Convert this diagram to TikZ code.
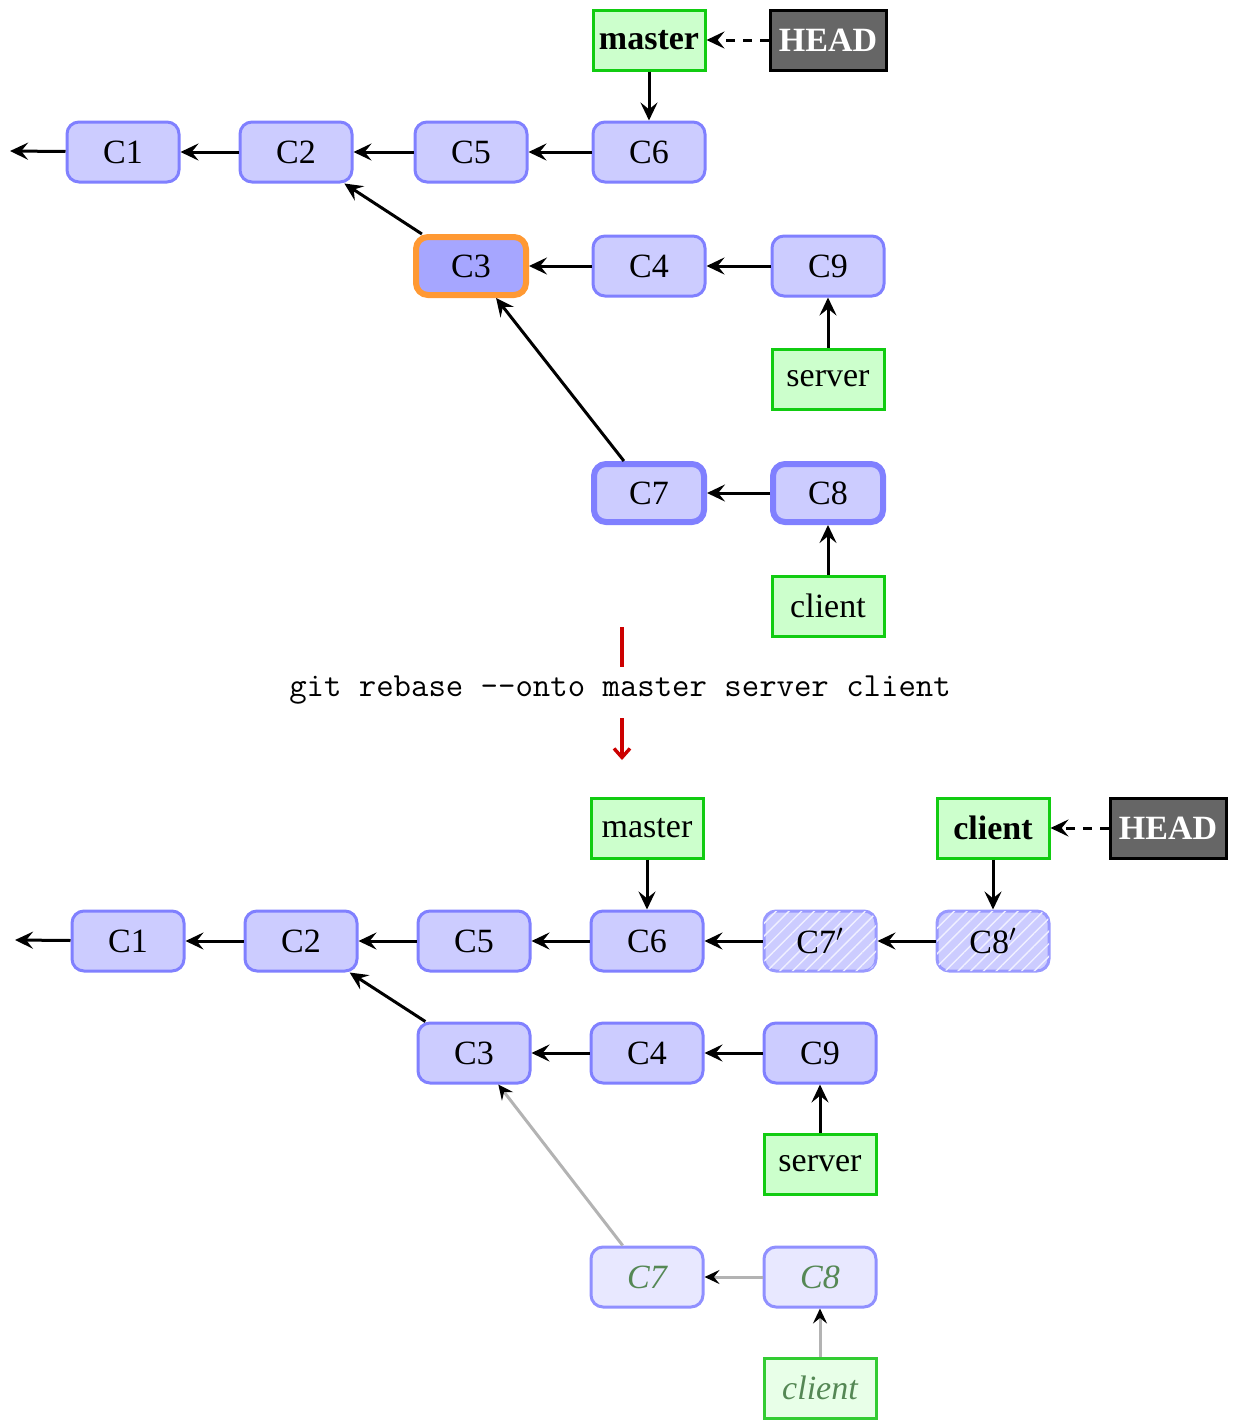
\documentclass[tikz,border=0pt]{standalone}
\usepackage{fontspec}
\setmainfont{Liberation Serif}
\usetikzlibrary{arrows.meta,patterns.meta}
\definecolor{cfill}{HTML}{CCCCFF}
\definecolor{cdraw}{HTML}{8080FF}
\definecolor{cdark}{HTML}{A6A6FF}
\definecolor{corange}{HTML}{FF9933}
\definecolor{bfill}{HTML}{CCFFCC}
\definecolor{bdraw}{HTML}{11CC11}
\definecolor{hfill}{HTML}{666666}
\definecolor{gfill}{HTML}{E8E8FF}
\definecolor{gdraw}{HTML}{9090FF}
\definecolor{gtext}{HTML}{558855}
\definecolor{gbfill}{HTML}{E8FFE8}
\definecolor{gbdraw}{HTML}{33CC33}
\definecolor{hdraw}{HTML}{9999FF}
\definecolor{gline}{HTML}{B3B3B3}
\definecolor{cred}{HTML}{CC0000}
\tikzset{
  x=0.5pt,y=-0.5pt,
  every node/.style={font=\fontsize{17}{20}\selectfont},
  commit/.style={draw=cdraw,fill=cfill,line width=1.5pt,rounded corners=6pt,
    minimum width=56pt,minimum height=30pt,inner sep=0pt,text depth=0pt,yshift=-0.5pt},
  thickcommit/.style={commit,line width=3pt,minimum width=55pt,minimum height=29pt},
  curcommit/.style={commit,draw=corange,fill=cdark,line width=3pt,minimum width=55pt,minimum height=29pt},
  ghostcommit/.style={commit,draw=gdraw,fill=gfill,text=gtext,font=\fontsize{17}{20}\selectfont\itshape},
  newcommit/.style={commit,draw=hdraw,fill=cfill,postaction={pattern={Lines[angle=45,distance=4.5pt,line width=0.7pt]},pattern color=white!70!cfill}},
  branch/.style={draw=bdraw,fill=bfill,line width=1.5pt,minimum width=56pt,minimum height=30pt,inner sep=0pt},
  ghostbranch/.style={branch,draw=gbdraw,fill=gbfill,text=gtext,font=\fontsize{17}{20}\selectfont\itshape},
  headbox/.style={draw=black,fill=hfill,text=white,line width=1.5pt,minimum width=58pt,minimum height=30pt,inner sep=0pt,font=\fontsize{17}{20}\selectfont\bfseries},
  parent/.style={line width=1.5pt,-{Stealth[length=9pt,width=8.5pt,inset=3.4pt]}},
  ghostparent/.style={line width=1.5pt,draw=gline,-{Stealth[length=7.5pt,width=7pt,inset=2.8pt,color=black]}},
  headptr/.style={parent,dash pattern=on 4.5pt off 4pt},
  redline/.style={draw=cred,line width=1.7pt},
}
\begin{document}
\begin{tikzpicture}
\useasboundingbox (0,0) rectangle (1235,1420);
% ---------- top ----------
\node[commit] (tC1) at (123,151) {C1};
\node[commit] (tC2) at (296,151) {C2};
\node[commit] (tC5) at (471,151) {C5};
\node[commit] (tC6) at (649,151) {C6};
\node[curcommit] (tC3) at (471,265) {C3};
\node[commit] (tC4) at (649,265) {C4};
\node[commit] (tC9) at (828,265) {C9};
\node[thickcommit] (tC7) at (649,492) {C7};
\node[thickcommit] (tC8) at (828,492) {C8};
\node[branch,font=\fontsize{17}{20}\selectfont\bfseries] (tmaster) at (649,40) {master};
\node[headbox] (tHEAD) at (828,40) {HEAD};
\node[branch] (tserver) at (828,379) {server};
\node[branch] (tclient) at (828,606) {client};
\coordinate (tL) at (10,151);
\draw[parent] (tC1) -- (tL);
\draw[parent] (tC2) -- (tC1);
\draw[parent] (tC5) -- (tC2);
\draw[parent] (tC6) -- (tC5);
\draw[parent] (tC3) -- (tC2);
\draw[parent] (tC4) -- (tC3);
\draw[parent] (tC9) -- (tC4);
\draw[parent] (tC7) -- (tC3);
\draw[parent] (tC8) -- (tC7);
\draw[parent] (tmaster) -- (tC6);
\draw[headptr] (tHEAD) -- (tmaster);
\draw[parent] (tserver) -- (tC9);
\draw[parent] (tclient) -- (tC8);
% ---------- middle ----------
\node[inner sep=0pt,font=\fontsize{16.9}{20}\selectfont\ttfamily] (cmd) at (620,690) {git rebase -{}-onto master server client};
\coordinate (r1) at (622,627);
\coordinate (r2) at (622,667);
\coordinate (r3) at (622,718);
\coordinate (r4) at (622,760);
\draw[redline] (r1) -- (r2);
\draw[redline,-{Straight Barb[length=4.5pt,width=8pt]}] (r3) -- (r4);
% ---------- bottom ----------
\node[commit] (bC1) at (128,940) {C1};
\node[commit] (bC2) at (301,940) {C2};
\node[commit] (bC5) at (474,940) {C5};
\node[commit] (bC6) at (647,940) {C6};
\node[newcommit] (bC7p) at (820,940) {C7$'$};
\node[newcommit] (bC8p) at (993,940) {C8$'$};
\node[commit] (bC3) at (474,1052) {C3};
\node[commit] (bC4) at (647,1052) {C4};
\node[commit] (bC9) at (820,1052) {C9};
\node[ghostcommit] (bC7) at (647,1276) {C7};
\node[ghostcommit] (bC8) at (820,1276) {C8};
\node[branch] (bmaster) at (647,828) {master};
\node[branch,font=\fontsize{17}{20}\selectfont\bfseries] (bclient) at (993,828) {client};
\node[headbox] (bHEAD) at (1168,828) {HEAD};
\node[branch] (bserver) at (820,1164) {server};
\node[ghostbranch] (bgclient) at (820,1388) {client};
\coordinate (bL) at (15,940);
\draw[parent] (bC1) -- (bL);
\draw[parent] (bC2) -- (bC1);
\draw[parent] (bC5) -- (bC2);
\draw[parent] (bC6) -- (bC5);
\draw[parent] (bC7p) -- (bC6);
\draw[parent] (bC8p) -- (bC7p);
\draw[parent] (bC3) -- (bC2);
\draw[parent] (bC4) -- (bC3);
\draw[parent] (bC9) -- (bC4);
\draw[ghostparent] (bC7) -- (bC3);
\draw[ghostparent] (bC8) -- (bC7);
\draw[ghostparent] (bgclient) -- (bC8);
\draw[parent] (bmaster) -- (bC6);
\draw[parent] (bclient) -- (bC8p);
\draw[headptr] (bHEAD) -- (bclient);
\draw[parent] (bserver) -- (bC9);
\end{tikzpicture}
\end{document}
